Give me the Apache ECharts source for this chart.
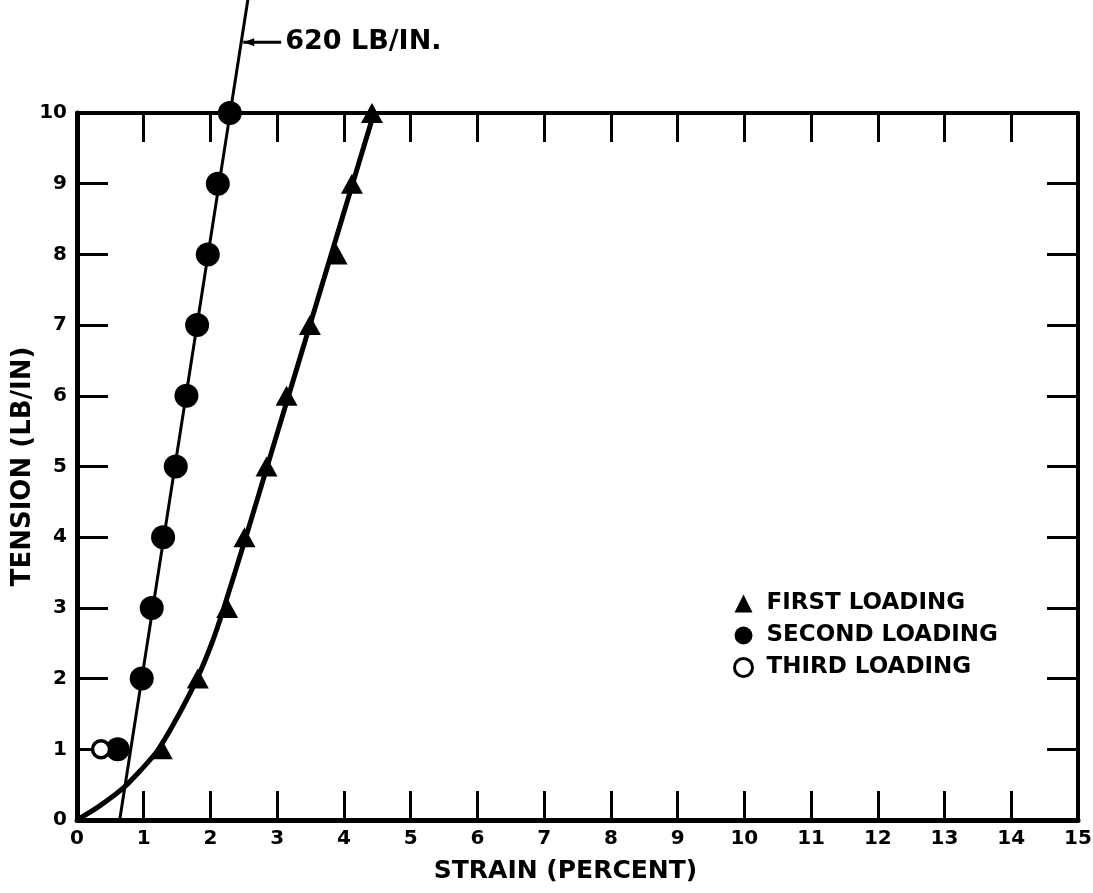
<!DOCTYPE html>
<html>
<head>
<meta charset="utf-8">
<script src="https://cdn.jsdelivr.net/npm/echarts@6/dist/echarts.min.js"></script>
<style>
  html, body { margin: 0; padding: 0; background: #fff; }
  #chart { width: 1093px; height: 893px; }
</style>
</head>
<body>
<div id="chart"></div>
<script>
// ---- data ----
const tensionLevels = [1, 2, 3, 4, 5, 6, 7, 8, 9, 10];
const firstLoadingStrain  = [1.27, 1.81, 2.25, 2.51, 2.84, 3.14, 3.49, 3.89, 4.12, 4.42];
const secondLoadingStrain = [0.61, 0.97, 1.12, 1.29, 1.48, 1.64, 1.80, 1.96, 2.11, 2.29];
const thirdLoadingStrain  = [0.36];
const thirdLoadingTension = [1];

// fitted curve through first loading
const firstCurveStrain  = [0, 0.34, 0.69, 0.95, 1.22, 1.53, 1.80, 2.02, 2.20, 2.53, 2.85, 3.17, 3.49, 3.81, 4.13, 4.45];
const firstCurveTension = [0, 0.2, 0.45, 0.7, 1.0, 1.5, 2.0, 2.5, 3, 4, 5, 6, 7, 8, 9, 10];

// straight line through second loading (620 lb/in)
const secondLineStrain  = [0.64, 2.56];
const secondLineTension = [0, 11.6];

const annotationText = '620 LB/IN.';
const annotationTension = 11.0;

const strainTicks = [0, 1, 2, 3, 4, 5, 6, 7, 8, 9, 10, 11, 12, 13, 14, 15];
const tensionTicks = [0, 1, 2, 3, 4, 5, 6, 7, 8, 9, 10];

const legendNames = ['FIRST LOADING', 'SECOND LOADING', 'THIRD LOADING'];
const xTitle = 'STRAIN (PERCENT)';
const yTitle = 'TENSION (LB/IN)';

// ---- build ----
const FONT = '"DejaVu Sans", "Liberation Sans", sans-serif';
const zip = (xs, ys) => xs.map((x, i) => [x, ys[i]]);

const tickLabel = { fontFamily: FONT, fontWeight: 'bold', fontSize: 20, color: '#000' };

function xAx(pos, show) {
  return {
    type: 'value', position: pos,
    min: strainTicks[0], max: strainTicks[strainTicks.length - 1], interval: 1,
    axisLine: { show: true, onZero: false, lineStyle: { color: '#000', width: pos === 'bottom' ? 5 : 4 } },
    axisTick: { show: true, inside: true, length: 29, lineStyle: { color: '#000', width: 3 } },
    axisLabel: Object.assign({ show: show, margin: 9 }, tickLabel),
    splitLine: { show: false },
    name: show ? xTitle : '',
    nameLocation: 'middle', nameGap: 39, nameMoveOverlap: false,
    nameTextStyle: { fontFamily: FONT, fontWeight: 'bold', fontSize: 25, color: '#000', padding: [0, 24, 0, 0] }
  };
}
function yAx(pos, show) {
  return {
    type: 'value', position: pos,
    min: tensionTicks[0], max: tensionTicks[tensionTicks.length - 1], interval: 1,
    axisLine: { show: true, onZero: false, lineStyle: { color: '#000', width: pos === 'left' ? 5 : 4 } },
    axisTick: { show: true, inside: true, length: 31, lineStyle: { color: '#000', width: 3 } },
    axisLabel: Object.assign({ show: show, margin: 10 }, tickLabel),
    splitLine: { show: false },
    name: show ? yTitle : '',
    nameLocation: 'middle', nameGap: 41, nameRotate: 90, nameMoveOverlap: false,
    nameTextStyle: { fontFamily: FONT, fontWeight: 'bold', fontSize: 26, color: '#000' }
  };
}

const chart = echarts.init(document.getElementById('chart'), null, { renderer: 'canvas' });

const option = {
  backgroundColor: '#fff',
  animation: false,
  grid: { left: 77, right: 15, top: 113, bottom: 73, containLabel: false, outerBoundsMode: 'none' },
  xAxis: [xAx('bottom', true), xAx('top', false)],
  yAxis: [yAx('left', true), yAx('right', false)],
  legend: {
    orient: 'vertical', left: 728, top: 587, itemGap: 9,
    itemWidth: 18, itemHeight: 18,
    textStyle: { fontFamily: FONT, fontWeight: 'bold', fontSize: 23, color: '#000', padding: [0, 0, 0, 9] },
    data: [
      { name: legendNames[0], icon: 'triangle', itemStyle: { color: '#000', opacity: 1 } },
      { name: legendNames[1], icon: 'circle', itemStyle: { color: '#000', opacity: 1 } },
      { name: legendNames[2], icon: 'circle', itemStyle: { color: '#fff', borderColor: '#000', borderWidth: 3, opacity: 1 } }
    ]
  },
  series: [
    {
      name: 'first curve', type: 'line', xAxisIndex: 0, yAxisIndex: 0,
      data: zip(firstCurveStrain, firstCurveTension), smooth: 0.3,
      showSymbol: false, symbol: 'none',
      lineStyle: { color: '#000', width: 5 }, z: 2, silent: true
    },
    {
      name: 'second line', type: 'line', xAxisIndex: 0, yAxisIndex: 0,
      data: zip(secondLineStrain, secondLineTension), clip: false,
      showSymbol: false, symbol: 'none',
      lineStyle: { color: '#000', width: 3 }, z: 2, silent: true
    },
    {
      name: legendNames[0], type: 'scatter', xAxisIndex: 0, yAxisIndex: 0,
      data: zip(firstLoadingStrain, tensionLevels), clip: false,
      symbol: 'triangle', symbolSize: [22, 20],
      itemStyle: { color: '#000', opacity: 1 }, z: 5
    },
    {
      name: legendNames[1], type: 'scatter', xAxisIndex: 0, yAxisIndex: 0,
      data: zip(secondLoadingStrain, tensionLevels), clip: false,
      symbol: 'circle', symbolSize: 24,
      itemStyle: { color: '#000', opacity: 1 }, z: 5
    },
    {
      name: legendNames[2], type: 'scatter', xAxisIndex: 0, yAxisIndex: 0,
      data: zip(thirdLoadingStrain, thirdLoadingTension), clip: false,
      symbol: 'circle', symbolSize: 17,
      itemStyle: { color: '#fff', borderColor: '#000', borderWidth: 3.5, opacity: 1 }, z: 5
    }
  ]
};
chart.setOption(option);

// annotation arrow + label positioned through the axes
const slope = (secondLineTension[1] - secondLineTension[0]) / (secondLineStrain[1] - secondLineStrain[0]);
const annStrain = secondLineStrain[0] + (annotationTension - secondLineTension[0]) / slope;
const p = chart.convertToPixel({ gridIndex: 0 }, [annStrain, annotationTension]);
chart.setOption({
  graphic: [
    { type: 'line', shape: { x1: p[0] + 2, y1: p[1], x2: p[0] + 40, y2: p[1] },
      style: { stroke: '#000', lineWidth: 3 }, z: 10 },
    { type: 'polygon', shape: { points: [[p[0] + 2, p[1]], [p[0] + 13, p[1] - 4], [p[0] + 13, p[1] + 4]] },
      style: { fill: '#000' }, z: 10 },
    { type: 'text', x: p[0] + 44, y: p[1], z: 10,
      style: { text: annotationText, fontFamily: FONT, fontWeight: 'bold', fontSize: 27,
               fill: '#000', textVerticalAlign: 'middle', verticalAlign: 'middle' } }
  ]
});
</script>
</body>
</html>
